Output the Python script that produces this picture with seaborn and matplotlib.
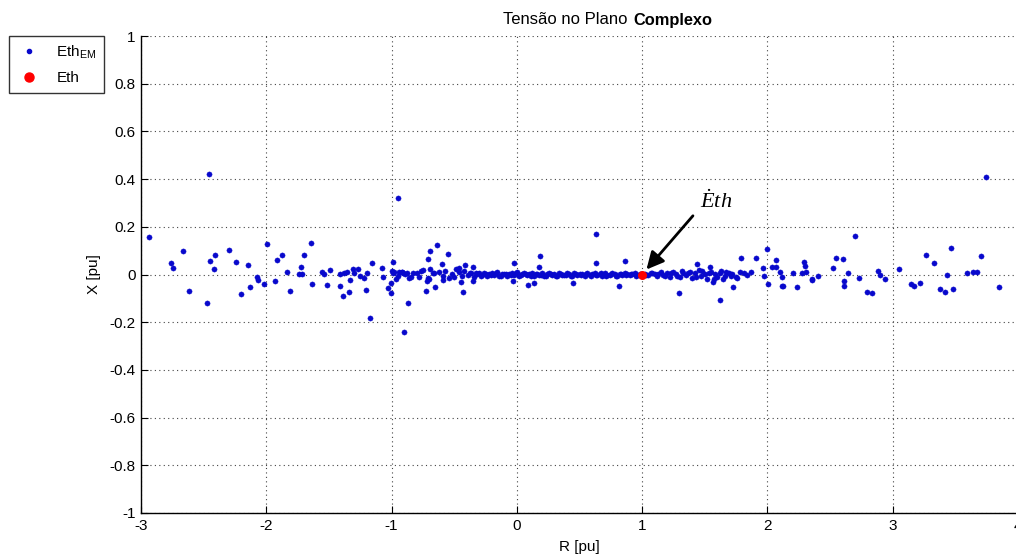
import matplotlib
matplotlib.use("Agg")
import matplotlib.pyplot as plt
import seaborn as sns
import pandas as pd
from matplotlib.lines import Line2D

# ---------------- data ----------------
outlier_r = [-2.937, -2.764, -2.743, -2.668, -2.615, -2.47, -2.456, -2.448, -2.41, -2.418,
             -2.298, -2.243, -2.205, -2.149, -2.128, -2.072, -2.07, -2.019, -1.995, -1.931,
             -1.918, -1.873, -1.838, -1.809, -1.724, -1.737, -1.718, -1.697, -1.641, -1.633,
             -1.554, -1.538, -1.514, -1.492, -1.415, -1.415, -1.386, -1.378, -1.359, -1.341,
             -1.335, -1.306, -1.298, -1.266, -1.25, -1.223, -1.203, -1.197, -1.170, -1.16,
             -1.075, -1.069, -1.027, -1.008, -1.003, -0.992, -0.998, -0.99, -0.968, -0.95,
             -0.94, -0.92, -0.905, -0.900, -0.88, -0.87, -0.848, -0.8, -0.766, -0.729,
             -0.721, -0.713, -0.708, -0.692, -0.697, -0.654, -0.665, -0.636, -0.601, -0.588,
             -0.553, -0.540, -0.484, -0.465, -0.447, -0.431, -0.41, -0.375, -0.354, -0.349,
             -0.024, -0.029, 0.09, 0.133, 0.176, 0.184, 0.449, 0.628, 0.628, 0.814,
             0.865, 1.293, 1.434, 1.540, 1.562, 1.625, 1.647, 1.724, 1.788, 1.905,
             1.966, 1.971, 1.993, 2.006, 2.038, 2.07, 2.072, 2.099, 2.115, 2.125,
             2.117, 2.205, 2.24, 2.277, 2.29, 2.296, 2.306, 2.354, 2.354, 2.405,
             2.524, 2.551, 2.602, 2.615, 2.615, 2.647, 2.70, 2.729, 2.793, 2.836,
             2.884, 2.90, 2.935, 3.051, 3.145, 3.166, 3.216, 3.267, 3.331, 3.379,
             3.421, 3.437, 3.466, 3.485, 3.589, 3.642, 3.671, 3.706, 3.743, 3.847]
outlier_x = [0.156, 0.047, 0.029, 0.100, -0.068, -0.12, 0.421, 0.058, 0.082, 0.024,
             0.104, 0.051, -0.082, 0.041, -0.052, -0.009, -0.023, -0.041, 0.129, -0.027,
             0.062, 0.082, 0.010, -0.068, 0.033, 0.001, 0.001, 0.082, 0.134, -0.041,
             0.009, 0.002, -0.045, 0.018, 0.002, -0.048, -0.090, 0.005, 0.009, -0.073,
             -0.023, 0.023, 0.005, 0.023, -0.005, -0.015, -0.065, 0.005, -0.181, 0.048,
             0.029, -0.009, -0.057, -0.078, -0.037, 0.051, 0.016, 0.005, -0.020, 0.319,
             0.010, 0.012, 0.008, -0.242, 0.005, -0.118, -0.012, 0.005, 0.016, -0.068,
             -0.029, 0.064, -0.013, 0.100, 0.022, -0.051, 0.005, 0.124, 0.044, -0.023,
             0.086, -0.016, 0.022, 0.029, -0.030, -0.073, 0.041, 0.005, 0.033, -0.026,
             0.050, -0.026, -0.045, -0.037, 0.033, 0.079, -0.037, 0.171, 0.048, -0.048,
             0.055, -0.078, 0.045, 0.030, -0.030, -0.107, -0.020, -0.052, 0.068, 0.068,
             0.029, -0.006, 0.106, -0.040, 0.033, 0.061, 0.033, 0.010, -0.048, -0.048,
             -0.009, 0.008, -0.051, 0.008, 0.054, 0.037, 0.012, -0.018, -0.025, -0.008,
             0.026, 0.071, 0.066, -0.026, -0.048, 0.005, 0.161, -0.015, -0.073, -0.078,
             0.015, -0.003, -0.019, 0.023, -0.039, -0.047, -0.036, 0.082, 0.048, -0.062,
             -0.073, -0.003, 0.111, -0.059, 0.008, 0.010, 0.010, 0.079, 0.409, -0.052]

band1_r = [-0.30, -0.28, -0.26, -0.24, -0.22, -0.20, -0.18, -0.16, -0.14, -0.12,
           -0.10, -0.08, -0.06, -0.04, -0.02, 0.00, 0.02, 0.04, 0.06, 0.08,
           0.10, 0.12, 0.14, 0.16, 0.18, 0.20, 0.22, 0.24, 0.26, 0.28,
           0.30, 0.32, 0.34, 0.36, 0.38, 0.40, 0.42, 0.44, 0.46, 0.48,
           0.50, 0.52, 0.54, 0.56, 0.58, 0.60, 0.62, 0.64, 0.66, 0.68,
           0.70, 0.72, 0.74, 0.76, 0.78, 0.80, 0.82, 0.84, 0.86, 0.88,
           0.90, 0.92, 0.94, 0.96, 0.98]
band1_x = [0.006, -0.004, 0.008, -0.007, 0.002, 0.005, -0.003, 0.009, -0.006, 0.001,
           0.004, -0.008, 0.003, 0.007, -0.002, 0.010, -0.005, 0.002, 0.006, -0.004,
           0.001, 0.007, -0.006, 0.003, -0.001, 0.005, -0.007, 0.004, 0.008, -0.003,
           0.002, -0.005, 0.006, 0.000, -0.004, 0.005, 0.003, -0.006, 0.007, -0.002,
           0.004, 0.001, -0.005, 0.006, -0.003, 0.002, 0.008, -0.004, 0.003, -0.006,
           0.005, 0.000, -0.003, 0.007, 0.002, -0.005, 0.004, -0.002, 0.006, 0.001,
           -0.004, 0.003, 0.005, -0.002, 0.004]

band2_r = [-0.29, -0.25, -0.21, -0.17, -0.13, -0.09, -0.05, -0.01, 0.03, 0.07,
           0.11, 0.15, 0.19, 0.23, 0.27, 0.31, 0.35, 0.39, 0.43, 0.47,
           0.51, 0.55, 0.59, 0.63, 0.67, 0.71, 0.75, 0.79, 0.83, 0.87,
           0.91, 0.95, 0.99]
band2_x = [-0.006, 0.003, -0.002, 0.005, -0.007, 0.002, -0.004, 0.006, -0.003, 0.001,
           -0.006, 0.004, -0.002, -0.005, 0.002, -0.007, 0.003, -0.001, -0.006, 0.004,
           -0.004, 0.002, -0.007, -0.003, 0.005, -0.005, 0.003, -0.006, 0.001, -0.004,
           0.004, -0.006, 0.002]

band3_r = [1.02, 1.05, 1.07, 1.10, 1.12, 1.15, 1.17, 1.20, 1.22, 1.25,
           1.27, 1.30, 1.32, 1.35, 1.37, 1.40, 1.42, 1.45, 1.47, 1.50,
           1.52, 1.55, 1.58, 1.60, 1.63, 1.66, 1.69, 1.72, 1.75, 1.78,
           1.81, 1.84, 1.87]
band3_x = [0.004, -0.003, 0.008, 0.002, -0.006, 0.010, -0.002, 0.005, -0.009, 0.012,
           0.003, -0.012, 0.015, -0.004, 0.008, -0.015, 0.006, 0.018, -0.008, 0.004,
           -0.018, 0.010, 0.002, -0.012, 0.014, -0.006, 0.008, 0.003, -0.010, 0.012,
           0.006, -0.004, 0.009]

band4_r = [1.03, 1.08, 1.13, 1.18, 1.23, 1.28, 1.33, 1.38, 1.43, 1.48,
           1.53, 1.57, 1.62, 1.67, 1.71, 1.76]
band4_x = [-0.004, 0.006, 0.002, -0.006, 0.007, -0.008, 0.005, 0.012, -0.010, 0.015,
           0.006, -0.020, 0.005, 0.012, -0.008, -0.014]

band5_r = [-0.98, -0.95, -0.92, -0.89, -0.86, -0.83, -0.78, -0.75, -0.70, -0.67,
           -0.62, -0.59, -0.57, -0.52, -0.50, -0.46, -0.44, -0.42, -0.39, -0.37,
           -0.34, -0.33, -0.32]
band5_x = [0.010, -0.005, 0.012, 0.003, -0.015, 0.008, -0.010, 0.018, -0.020, 0.006,
           0.012, -0.008, 0.015, 0.004, -0.012, 0.010, -0.006, 0.014, -0.004, 0.008,
           -0.010, 0.006, 0.002]

eth_r = [1.0]
eth_x = [0.0]

x_ticks = [-3, -2, -1, 0, 1, 2, 3, 4]
y_ticks = [-1, -0.8, -0.6, -0.4, -0.2, 0, 0.2, 0.4, 0.6, 0.8, 1]
y_tick_labels = ["-1", "-0.8", "-0.6", "-0.4", "-0.2", "0", "0.2", "0.4", "0.6", "0.8", "1"]

# ---------------- plot ----------------
sns.set_style("white")
plt.rcParams["font.family"] = ["Liberation Sans", "DejaVu Sans"]
plt.rcParams["mathtext.fontset"] = "custom"
plt.rcParams["mathtext.rm"] = "Liberation Serif"
plt.rcParams["mathtext.it"] = "Liberation Serif:italic"
plt.rcParams["mathtext.sf"] = "Liberation Sans"
plt.rcParams["axes.unicode_minus"] = False
plt.rcParams["text.color"] = "black"
plt.rcParams["axes.labelcolor"] = "black"
plt.rcParams["xtick.color"] = "black"
plt.rcParams["ytick.color"] = "black"

W, H = 1016, 555
fig = plt.figure(figsize=(W / 100, H / 100), dpi=100)
ax = fig.add_axes([141 / W, 1 - 513 / H, 877 / W, 477 / H])

em = pd.DataFrame({
    "R": outlier_r + band1_r + band2_r + band3_r + band4_r + band5_r,
    "X": outlier_x + band1_x + band2_x + band3_x + band4_x + band5_x,
})
eth = pd.DataFrame({"R": eth_r, "X": eth_x})

blue = "#0808cc"
sns.scatterplot(data=em, x="R", y="X", ax=ax, color=blue, s=14, marker="o",
                edgecolor=blue, linewidth=0.3, zorder=3)
sns.scatterplot(data=eth, x="R", y="X", ax=ax, color="#ff0000", s=42, marker="o",
                edgecolor="#ff0000", linewidth=0, zorder=4)

ax.set_xlim(-3, 4)
ax.set_ylim(-1, 1)
ax.set_xticks(x_ticks)
ax.set_yticks(y_ticks)
ax.set_yticklabels(y_tick_labels)
ax.grid(True, color="#444444", linestyle=(0, (1, 3)), linewidth=0.8)
ax.set_axisbelow(True)
for side in ["top", "right"]:
    ax.spines[side].set_visible(False)
for side in ["left", "bottom"]:
    ax.spines[side].set_color("black")
    ax.spines[side].set_linewidth(1.0)
ax.tick_params(direction="in", length=5, width=0.8, labelsize=11, colors="black",
               left=True, bottom=True, pad=4)
ax.set_xlabel("R [pu]", fontsize=11, labelpad=5)
ax.set_ylabel("X [pu]", fontsize=11, labelpad=6)

# title (two parts as in reference)
fig.text(503 / W, 1 - 19 / H, "Tensão no Plano", fontsize=12, ha="left", va="center")
fig.text(633 / W, 1 - 20 / H, "Complexo", fontsize=11.8, fontweight="bold", ha="left", va="center")

# annotation
ax.annotate("", xy=(1.02, 0.012), xytext=(1.42, 0.255),
            arrowprops=dict(arrowstyle="-|>", color="black", lw=2.0, mutation_scale=26),
            zorder=5)
ax.text(1.59, 0.305, r"$\dot{E}th$", fontsize=16, ha="center", va="center")

# legend
handles = [
    Line2D([0], [0], marker="o", color="none", markerfacecolor=blue, markeredgecolor=blue,
           markersize=3),
    Line2D([0], [0], marker="o", color="none", markerfacecolor="#ff0000",
           markeredgecolor="#ff0000", markersize=6.5),
]
leg = fig.legend(handles, [r"Eth$_{\mathsf{EM}}$", "Eth"], loc="upper left",
                 bbox_to_anchor=(9 / W, 1 - 36 / H), borderaxespad=0, frameon=True,
                 fancybox=False, edgecolor="black", fontsize=11, handlelength=1.6,
                 handletextpad=1.0, borderpad=0.5, labelspacing=0.7)
leg.get_frame().set_linewidth(1.0)

fig.savefig("out.png", dpi=100)
